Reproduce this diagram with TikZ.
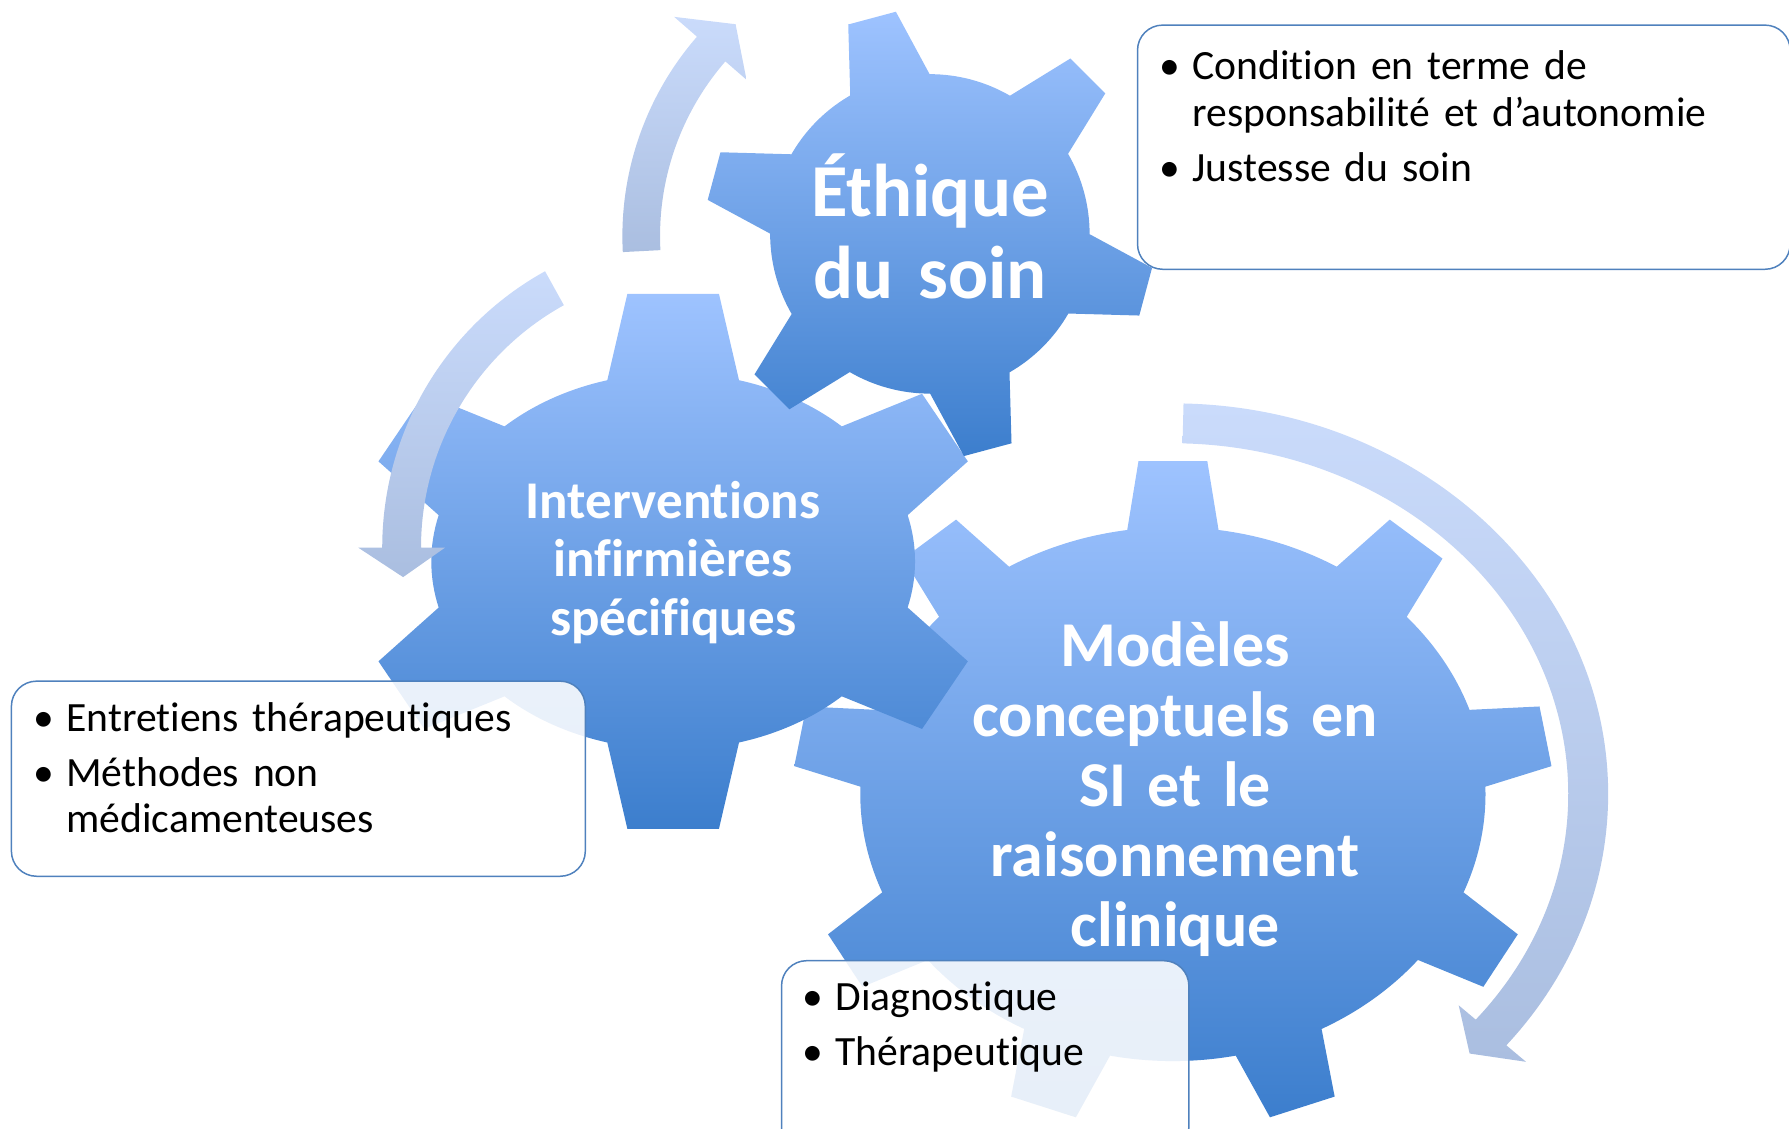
\documentclass[tikz,border=0pt]{standalone}
\usepackage{fontspec}
\setmainfont{Carlito}[Ligatures=NoCommon, WordSpace=0.85]

\definecolor{geartop}{RGB}{158,195,255}
\definecolor{gearbot}{RGB}{60,126,205}
\definecolor{arrowtop}{RGB}{202,219,251}
\definecolor{arrowbot}{RGB}{170,190,224}
\definecolor{boxline}{RGB}{79,129,189}

% gear outline: body radii, tip radii, tooth angles, step, base and tip half angles
\newcommand\gearoutline[8]{%
  (0,0) \foreach \tang in {#5}{
    -- ({#1*cos(\tang-#7)},{#2*sin(\tang-#7)})
    -- ({#3*cos(\tang-#8)},{#4*sin(\tang-#8)})
    -- ({#3*cos(\tang+#8)},{#4*sin(\tang+#8)})
    -- ({#1*cos(\tang+#7)},{#2*sin(\tang+#7)})
    arc[start angle=\tang+#7, end angle=\tang+#6-#7, x radius=#1, y radius=#2]
  } -- cycle}
\newcommand\puce[1]{\hangindent=29pt\hangafter=1\noindent\makebox[29pt][l]{•}#1\par}

\tikzset{
  gearshade/.style={top color=geartop, bottom color=gearbot},
  arrowshade/.style={top color=arrowtop, bottom color=arrowbot},
  listbox/.style={draw=boxline, line width=1.3pt, fill=white, fill opacity=0.88, rounded corners=22pt},
  listtext/.style={anchor=base west, text width=600, inner sep=0pt,
    font=\fontsize{36.5}{41}\selectfont},
  geartext/.style={anchor=base, text width=440, inner sep=0pt, text=white}
}

\begin{document}
\begin{tikzpicture}[x=1pt, y=-1pt]
  \useasboundingbox (0,0) rectangle (1568,989);

  % gears, back to front
  \begin{scope}[shift={(1028,696)}]
    \path[gearshade] \gearoutline{274}{234}{333}{293}{-90,-50,...,230}{40}{8.4}{5.2};
  \end{scope}
  \begin{scope}[shift={(590,492)}]
    \path[gearshade] \gearoutline{212}{165}{278}{237}{-90,-30,...,210}{60}{15.8}{8.3};
  \end{scope}
  \draw[listbox] (997,22) rectangle (1569,236);
  \begin{scope}[shift={(815,205)}]
    \path[gearshade] \gearoutline{140}{140}{197}{197}{-105,-45,...,195}{60}{14.9}{6.3};
  \end{scope}
  \draw[listbox] (10,597) rectangle (513,768);
  \draw[listbox] (685,842) rectangle (1042,1010);

  % circular arrows
  \begin{scope}[shift={(812,207)}]
    \path[arrowshade] (177:233.5) -- (177:266.5) arc[start angle=177, end angle=221, radius=266.5]
      -- (221:293) -- (228:250) -- (221:209) -- (221:233.5)
      arc[start angle=221, end angle=177, radius=233.5] -- cycle;
  \end{scope}
  \begin{scope}[shift={(612,480)}]
    \path[arrowshade] (241:243) -- (241:277) arc[start angle=241, end angle=180, radius=277]
      -- (180:298) -- (174.3:260) -- (180:222) -- (180:243)
      arc[start angle=180, end angle=241, radius=243] -- cycle;
  \end{scope}
  \begin{scope}[shift={(1028,696)}]
    \path[arrowshade] (-88.6:346.5 and 307.5) -- (-88.6:381.5 and 342.5)
      arc[start angle=-88.6, end angle=40, x radius=381.5, y radius=342.5]
      -- (40:404 and 365) -- (44.4:364 and 325) -- (40:327 and 288) -- (40:346.5 and 307.5)
      arc[start angle=40, end angle=-88.6, x radius=346.5, y radius=307.5] -- cycle;
  \end{scope}

  % texts
  \node[geartext, font=\bfseries\fontsize{65.5}{72}\selectfont] (ethique) at (815,190) {\centering Éthique\\du soin\par};
  \node[geartext, font=\bfseries\fontsize{46.5}{51.5}\selectfont] (interventions) at (590,454) {\centering Interventions\\infirmières\\spécifiques\par};
  \node[geartext, font=\bfseries\fontsize{56}{61.5}\selectfont] (modeles) at (1030,584) {\centering Modèles\\conceptuels en\\SI et le\\raisonnement\\clinique\par};
  \node[listtext] (condition) at (1016,70) {\raggedright\puce{Condition en terme de\newline responsabilité et d’autonomie}\vspace{7pt}\puce{Justesse du soin}};
  \node[listtext] (entretiens) at (29,641) {\raggedright\puce{Entretiens thérapeutiques}\vspace{7pt}\puce{Méthodes non\newline médicamenteuses}};
  \node[listtext] (diagnostique) at (703,886) {\raggedright\puce{Diagnostique}\vspace{7pt}\puce{Thérapeutique}};
\end{tikzpicture}
\end{document}
